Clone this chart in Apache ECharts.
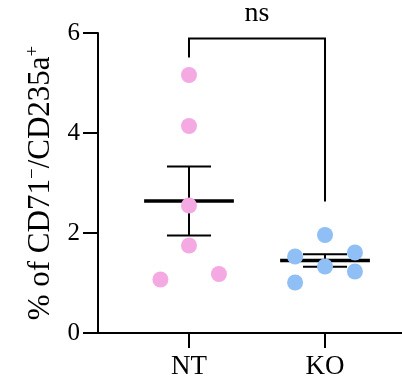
<!DOCTYPE html>
<html>
<head>
<meta charset="utf-8">
<script src="https://cdn.jsdelivr.net/npm/echarts@6/dist/echarts.min.js"></script>
<style>html,body{margin:0;padding:0;background:#fff;}#c{width:402px;height:383px;}</style>
</head>
<body>
<div id="c"></div>
<script>
const categories = ['NT', 'KO'];
const ntValues = [5.16, 4.14, 2.55, 1.75, 1.07, 1.18];
const ntJitter = [0, 0, 0, 0, -0.21, 0.22];
const koValues = [1.96, 1.53, 1.61, 1.33, 1.01, 1.23];
const koJitter = [0, -0.22, 0.22, 0, -0.22, 0.22];
const means = [2.64, 1.45];
const sems = [0.69, 0.125];
const yTicks = [0, 2, 4, 6];
const bracket = [5.89, 5.51, 2.63]; // top, left leg end, right leg end
const sigLabel = 'ns';

const FONT = "'Liberation Serif', 'Times New Roman', Times, serif";
const chart = echarts.init(document.getElementById('c'));

const ntData = ntValues.map((v, i) => [1 + ntJitter[i], v]);
const koData = koValues.map((v, i) => [2 + koJitter[i], v]);
const summary = means.map((m, i) => [i + 1, m, sems[i]]);

chart.setOption({
  animation: false,
  grid: { left: 98, right: 0, top: 33, bottom: 50 },
  xAxis: {
    type: 'value', min: 0.331, max: 2.566,
    splitLine: { show: false },
    axisLine: { show: true, lineStyle: { color: '#000', width: 2 } },
    axisTick: { show: true, customValues: [1, 2], length: 15, lineStyle: { color: '#000', width: 2 } },
    axisLabel: { customValues: [1, 2], formatter: v => categories[Math.round(v) - 1] || '',
      color: '#000', fontFamily: FONT, fontSize: 27, margin: 20 }
  },
  yAxis: {
    type: 'value', min: 0, max: 6, interval: 2,
    splitLine: { show: false },
    axisLine: { show: true, lineStyle: { color: '#000', width: 2 } },
    axisTick: { show: true, length: 15, lineStyle: { color: '#000', width: 2 } },
    axisLabel: { color: '#000', fontFamily: FONT, fontSize: 25, margin: 18,
      formatter: v => yTicks.includes(v) ? String(v) : '' },
    name: '{a|% of CD71}{s|−}{a|/CD235a}{s|+}',
    nameLocation: 'middle', nameGap: 40,
    nameTextStyle: {
      rich: {
        a: { fontFamily: FONT, fontSize: 31, color: '#000', lineHeight: 34 },
        s: { fontFamily: FONT, fontSize: 19, color: '#000', lineHeight: 34, verticalAlign: 'top' }
      }
    }
  },
  series: [
    {
      type: 'custom', z: 2, clip: false,
      data: summary,
      renderItem: (params, api) => {
        const x = api.value(0), m = api.value(1), s = api.value(2);
        const c = api.coord([x, m]);
        const l = api.coord([x - 0.33, m]);
        const r = api.coord([x + 0.33, m]);
        const top = api.coord([x, m + s]);
        const bot = api.coord([x, m - s]);
        const cw = api.coord([x + 0.162, m])[0] - c[0];
        const st = { stroke: '#000', lineWidth: 2 };
        return { type: 'group', children: [
          { type: 'line', shape: { x1: l[0], y1: c[1], x2: r[0], y2: c[1] }, style: { stroke: '#000', lineWidth: 3.5 } },
          { type: 'line', shape: { x1: c[0], y1: top[1], x2: c[0], y2: bot[1] }, style: st },
          { type: 'line', shape: { x1: c[0] - cw, y1: top[1], x2: c[0] + cw, y2: top[1] }, style: st },
          { type: 'line', shape: { x1: c[0] - cw, y1: bot[1], x2: c[0] + cw, y2: bot[1] }, style: st }
        ]};
      }
    },
    {
      type: 'custom', z: 2, clip: false,
      data: [[1, 2, bracket[0], bracket[1], bracket[2]]],
      renderItem: (params, api) => {
        const a = api.coord([api.value(0), api.value(3)]);
        const at = api.coord([api.value(0), api.value(2)]);
        const bt = api.coord([api.value(1), api.value(2)]);
        const b = api.coord([api.value(1), api.value(4)]);
        const mid = api.coord([(api.value(0) + api.value(1)) / 2, api.value(2)]);
        return { type: 'group', children: [
          { type: 'polyline', shape: { points: [a, at, bt, b] }, style: { stroke: '#000', lineWidth: 2, fill: null } },
          { type: 'text', x: mid[0], y: mid[1] - 11, style: { text: sigLabel, fontFamily: FONT, fontSize: 28,
            fill: '#000', align: 'center', verticalAlign: 'bottom' } }
        ]};
      }
    },
    { type: 'scatter', z: 5, data: ntData, symbolSize: 16, itemStyle: { color: '#F5A9E3', opacity: 1 } },
    { type: 'scatter', z: 5, data: koData, symbolSize: 16, itemStyle: { color: '#8FBFF5', opacity: 1 } }
  ]
});
</script>
</body>
</html>
